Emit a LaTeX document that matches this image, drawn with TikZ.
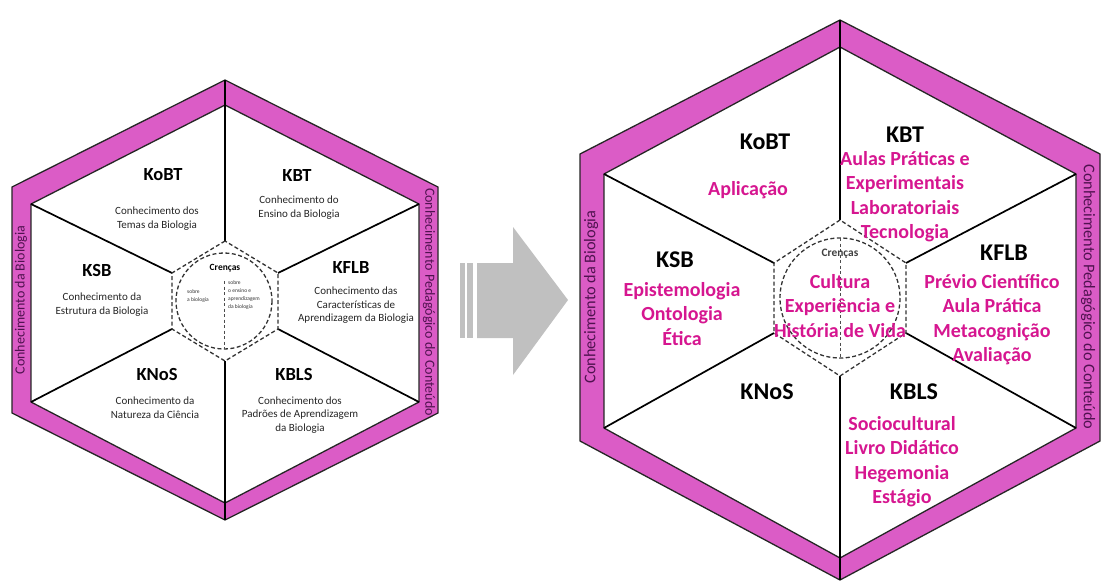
\documentclass[tikz,border=0pt]{standalone}
\usepackage{fontspec}
\setmainfont{Carlito}
\usepackage{xcolor}
\usepackage{tikz}
\usetikzlibrary{positioning, calc}
\definecolor{faixa}{RGB}{219,92,198}
\definecolor{faixatxt}{RGB}{80,18,80}
\definecolor{item}{RGB}{214,22,144}
\definecolor{seta}{RGB}{192,192,192}
\tikzstyle{band} = [fill=faixa, draw=black!85, line width=1.3pt, line join=miter]
\tikzstyle{face} = [fill=white, draw=black!85, line width=1.3pt]
\tikzstyle{spoke} = [draw=black, line width=1.7pt]
\tikzstyle{core} = [draw=black!80, line width=1.3pt, dash pattern=on 4pt off 2.5pt]
\tikzstyle{divider} = [draw=black!70, line width=0.9pt, dash pattern=on 3pt off 2.5pt]
\tikzstyle{bandlabel} = [text=faixatxt, inner sep=0pt]
\tikzstyle{keyA} = [font=\fontsize{18.5}{20}\selectfont\bfseries, inner sep=0pt]
\tikzstyle{descA} = [font=\fontsize{11}{13.5}\selectfont, align=center, inner sep=0pt, text=black!85]
\tikzstyle{keyB} = [font=\fontsize{24}{26}\selectfont\bfseries, inner sep=0pt]
\tikzstyle{descB} = [font=\fontsize{20}{24.5}\selectfont\bfseries, align=center, inner sep=0pt, text=item]
\tikzstyle{tiny} = [font=\fontsize{5.5}{8}\selectfont, align=left, inner sep=0pt, text=black!80]

\begin{document}
\begin{tikzpicture}[x=1pt, y=-1pt]
    \useasboundingbox (0,0) rectangle (1113,581);
    \fill[white] (0,0) rectangle (1113,581);

    % --- Hexagono original (esquerda) ---
    \coordinate (Lo1) at (225,80);  \coordinate (Lo2) at (12,187);
    \coordinate (Lo3) at (12,413);  \coordinate (Lo4) at (225,520);
    \coordinate (Lo5) at (438,413); \coordinate (Lo6) at (438,187);
    \coordinate (Li1) at (225,105); \coordinate (Li2) at (31,204);
    \coordinate (Li3) at (31,402);  \coordinate (Li4) at (225,503);
    \coordinate (Li5) at (419,402); \coordinate (Li6) at (419,204);
    \coordinate (Lc1) at (225,241); \coordinate (Lc2) at (172,273);
    \coordinate (Lc3) at (172,329); \coordinate (Lc4) at (225,361);
    \coordinate (Lc5) at (278,329); \coordinate (Lc6) at (278,273);
    \coordinate (Lcc) at (224,301);
    \coordinate (Lv1) at (224.5,281); \coordinate (Lv2) at (224.5,349);

    \draw[band] (Lo1) -- (Lo2) -- (Lo3) -- (Lo4) -- (Lo5) -- (Lo6) -- cycle;
    \draw[face] (Li1) -- (Li2) -- (Li3) -- (Li4) -- (Li5) -- (Li6) -- cycle;
    \draw[spoke] (Lo1) -- (Lc1);
    \draw[spoke] (Li2) -- (Lc2);
    \draw[spoke] (Li3) -- (Lc3);
    \draw[spoke] (Lo4) -- (Lc4);
    \draw[spoke] (Li5) -- (Lc5);
    \draw[spoke] (Li6) -- (Lc6);
    \draw[core] (Lc1) -- (Lc2) -- (Lc3) -- (Lc4) -- (Lc5) -- (Lc6) -- cycle;
    \draw[core] (Lcc) circle[radius=48];
    \draw[divider] (Lv1) -- (Lv2);

    % Faixas
    \node (cbA) [bandlabel, rotate=90, font=\fontsize{14}{16}\selectfont] at (21,300) {Conhecimento da Biologia};
    \node (cpcA) [bandlabel, rotate=-90, font=\fontsize{14}{16}\selectfont] at (429,302) {Conhecimento Pedagógico do Conteúdo};

    % Dominios
    \node (kobtA) [keyA] at (163,175) {KoBT};
    \node (kobtAd) [descA, below=25.5pt of kobtA, xshift=-6pt] {Conhecimento dos\\Temas da Biologia};
    \node (kbtA) [keyA] at (297,175) {KBT};
    \node (kbtAd) [descA, below=14.5pt of kbtA, xshift=2pt] {Conhecimento do\\Ensino da Biologia};
    \node (ksbA) [keyA] at (97,270) {KSB};
    \node (ksbAd) [descA, below=16.5pt of ksbA, xshift=5pt] {Conhecimento da\\Estrutura da Biologia};
    \node (kflbA) [keyA] at (351,267) {KFLB};
    \node (kflbAd) [descA, below=13.5pt of kflbA, xshift=5pt] {Conhecimento das\\Características de\\Aprendizagem da Biologia};
    \node (knosA) [keyA] at (157,374) {KNoS};
    \node (knosAd) [descA, below=16.5pt of knosA, xshift=-2pt] {Conhecimento da\\Natureza da Ciência};
    \node (kblsA) [keyA] at (294,374) {KBLS};
    \node (kblsAd) [descA, below=16pt of kblsA, xshift=6pt] {Conhecimento dos\\Padrões de Aprendizagem\\da Biologia};

    % Crencas
    \node (crA) [font=\fontsize{9.5}{11}\selectfont\bfseries, inner sep=0pt] at (225,268) {Crenças};
    \node (sobreA) [tiny, anchor=north west] at (187,289) {sobre\\a biologia};
    \node (sobreB) [tiny, anchor=north west] at (228,280) {sobre\\o ensino e\\aprendizagem\\da biologia};

    % --- Seta ---
    \fill[seta] (460,263) rectangle (465,338);
    \fill[seta] (467,263) rectangle (473,338);
    \fill[seta] (477,263) -- (513,263) -- (513,227) -- (568,300) -- (513,375) -- (513,338) -- (477,338) -- cycle;

    % --- Hexagono adaptado (direita) ---
    \coordinate (Ro1) at (840,20);   \coordinate (Ro2) at (580,154);
    \coordinate (Ro3) at (580,441);  \coordinate (Ro4) at (840,580);
    \coordinate (Ro5) at (1100,441); \coordinate (Ro6) at (1100,154);
    \coordinate (Ri1) at (840,47);   \coordinate (Ri2) at (604,174);
    \coordinate (Ri3) at (604,428);  \coordinate (Ri4) at (840,558);
    \coordinate (Ri5) at (1076,428); \coordinate (Ri6) at (1076,174);
    \coordinate (Rc1) at (840,220);  \coordinate (Rc2) at (774,263);
    \coordinate (Rc3) at (774,333);  \coordinate (Rc4) at (840,376);
    \coordinate (Rc5) at (906,333);  \coordinate (Rc6) at (906,263);
    \coordinate (Rcc) at (840,298);
    \coordinate (Rv1) at (840,238);  \coordinate (Rv2) at (840,358);

    \draw[band] (Ro1) -- (Ro2) -- (Ro3) -- (Ro4) -- (Ro5) -- (Ro6) -- cycle;
    \draw[face] (Ri1) -- (Ri2) -- (Ri3) -- (Ri4) -- (Ri5) -- (Ri6) -- cycle;
    \draw[spoke] (Ro1) -- (Rc1);
    \draw[spoke] (Ri2) -- (Rc2);
    \draw[spoke] (Ri3) -- (Rc3);
    \draw[spoke] (Ro4) -- (Rc4);
    \draw[spoke] (Ri5) -- (Rc5);
    \draw[spoke] (Ri6) -- (Rc6);
    \draw[core] (Rc1) -- (Rc2) -- (Rc3) -- (Rc4) -- (Rc5) -- (Rc6) -- cycle;
    \draw[core] (Rcc) circle[radius=60];
    \draw[divider] (Rv1) -- (Rv2);

    % Faixas
    \node (cbB) [bandlabel, rotate=90, font=\fontsize{16.3}{18}\selectfont] at (591,297) {Conhecimento da Biologia};
    \node (cpcB) [bandlabel, rotate=-90, font=\fontsize{16.3}{18}\selectfont] at (1088,297) {Conhecimento Pedagógico do Conteúdo};

    % Dominios
    \node (kobtB) [keyB] at (765,142) {KoBT};
    \node (kobtBd) [descB, below=31pt of kobtB, xshift=-17pt] {Aplicação};
    \node (kbtB) [keyB] at (905,135) {KBT};
    \node (kbtBd) [descB, below=8pt of kbtB] {Aulas Práticas e\\Experimentais\\Laboratoriais\\Tecnologia};
    \node (ksbB) [keyB] at (675,260) {KSB};
    \node (ksbBd) [descB, below=14pt of ksbB, xshift=7pt] {Epistemologia\\Ontologia\\Ética};
    \node (kflbB) [keyB] at (1004,253) {KFLB};
    \node (kflbBd) [descB, below=13pt of kflbB, xshift=-12pt] {Prévio Científico\\Aula Prática\\Metacognição\\Avaliação};
    \node (knosB) [keyB] at (767,392) {KNoS};
    \node (kblsB) [keyB] at (914,392) {KBLS};
    \node (kblsBd) [descB, below=16pt of kblsB, xshift=-12pt] {Sociocultural\\Livro Didático\\Hegemonia\\Estágio};

    % Crencas
    \node (crB) [font=\fontsize{11.4}{13}\selectfont\bfseries, inner sep=0pt, text=black!75] at (840,254) {Crenças};
    \node (crBd) [descB, below=15pt of crB] {Cultura\\Experiência e\\História de Vida};

\end{tikzpicture}
\end{document}
